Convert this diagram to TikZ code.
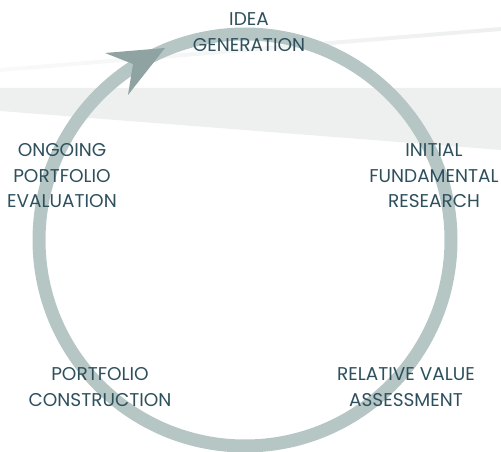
\documentclass[tikz,border=0pt]{standalone}
\usepackage{fontspec}
\setmainfont{Poppins}
\definecolor{ringgray}{RGB}{181,198,197}
\definecolor{tipgray}{RGB}{143,163,162}
\definecolor{bandgray}{RGB}{238,240,239}
\definecolor{labelteal}{RGB}{46,80,92}
\begin{document}
\begin{tikzpicture}[x=1pt,y=-1pt,
    stage/.style={align=center,text=labelteal,inner sep=0pt,font=\fontsize{18.5}{25.5}\selectfont}]
      \useasboundingbox (0,0) rectangle (501,452);
      \fill[bandgray] (0,88) -- (501,88) -- (501,150) -- (0,111) -- cycle;
      \shade[left color=bandgray!40,right color=bandgray] (0,68) -- (501,27) -- (501,31) -- (0,72) -- cycle;
      \coordinate (c) at (245,240);
      \draw[ringgray,line width=13pt] (c) circle (206pt);
      \fill[tipgray] (165,48) -- (105,53) -- (133,64) -- (128,95) -- cycle;
      \node[stage] (idea) at (249,32) {IDEA\\GENERATION};
      \node[stage] (research) at (434,176) {INITIAL\\FUNDAMENTAL\\RESEARCH};
      \node[stage] (value) at (406,387) {RELATIVE VALUE\\ASSESSMENT};
      \node[stage] (construct) at (100,387) {PORTFOLIO\\CONSTRUCTION};
      \node[stage] (evaluation) at (62,176) {ONGOING\\PORTFOLIO\\EVALUATION};
    \end{tikzpicture}
\end{document}
